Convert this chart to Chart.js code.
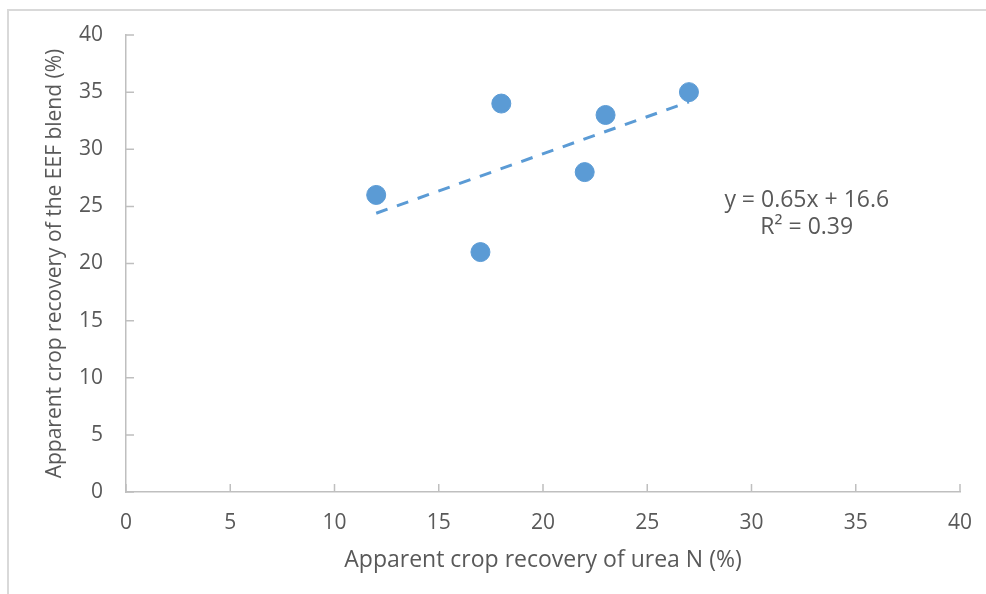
<!DOCTYPE html>
<html>
<head>
<meta charset="utf-8">
<script src="https://cdn.jsdelivr.net/npm/chart.js@4.4.0/dist/chart.umd.min.js"></script>
<style>
  html, body { margin: 0; padding: 0; background: #fff; overflow: hidden; }
  #chart { display: block; }
</style>
</head>
<body>
<canvas id="chart" width="986" height="594"></canvas>
<script>
// recovery of urea N (x) vs recovery of the EEF blend (y), in %
const ureaRecovery = [12, 17, 18, 22, 23, 27];
const blendRecovery = [26, 21, 34, 28, 33, 35];

// fitted linear trend
const slope = 0.65;
const intercept = 16.6;
const rSquared = 0.39;

const axisTicks = [0, 5, 10, 15, 20, 25, 30, 35, 40];

const textColor = "#595959";
const axisColor = "#bfbfbf";
const pointColor = "#5b9bd5";
const fontFamily = "'Open Sans', 'Noto Sans', sans-serif";

const points = ureaRecovery.map((x, i) => ({ x: x, y: blendRecovery[i] }));
const xMin = Math.min(...ureaRecovery);
const xMax = Math.max(...ureaRecovery);
const trend = [
  { x: xMin, y: slope * xMin + intercept },
  { x: xMax, y: slope * xMax + intercept }
];

// light frame round the chart object
const chartFrame = {
  id: "chartFrame",
  beforeDraw(chart) {
    const { ctx } = chart;
    ctx.save();
    ctx.strokeStyle = "#d9d9d9";
    ctx.lineWidth = 2;
    ctx.beginPath();
    ctx.moveTo(8, chart.height + 5);
    ctx.lineTo(8, 10);
    ctx.lineTo(chart.width + 5, 10);
    ctx.stroke();
    ctx.restore();
  }
};

// short tick marks pointing into the plot area, plus the equation text
const excelTicks = {
  id: "excelTicks",
  afterDraw(chart) {
    const { ctx, chartArea, scales } = chart;
    ctx.save();
    ctx.strokeStyle = axisColor;
    ctx.lineWidth = 1.5;
    ctx.beginPath();
    axisTicks.forEach((v) => {
      const px = scales.x.getPixelForValue(v);
      ctx.moveTo(px, chartArea.bottom);
      ctx.lineTo(px, chartArea.bottom - 8);
      const py = scales.y.getPixelForValue(v);
      ctx.moveTo(chartArea.left, py);
      ctx.lineTo(chartArea.left + 8, py);
    });
    ctx.stroke();

    ctx.fillStyle = textColor;
    ctx.font = "23px " + fontFamily;
    ctx.textAlign = "center";
    ctx.textBaseline = "middle";
    const tx = scales.x.getPixelForValue(32.65);
    ctx.fillText("y = " + slope + "x + " + intercept, tx, scales.y.getPixelForValue(25.5));
    ctx.fillText("R² = " + rSquared, tx, scales.y.getPixelForValue(23.15));
    ctx.restore();
  }
};

const ctx = document.getElementById("chart").getContext("2d");
new Chart(ctx, {
  type: "scatter",
  data: {
    datasets: [
      {
        label: "Trend",
        data: trend,
        showLine: true,
        borderColor: pointColor,
        borderWidth: 3,
        borderDash: [12, 10],
        pointRadius: 0,
        fill: false
      },
      {
        label: "Recovery",
        data: points,
        backgroundColor: pointColor,
        borderColor: pointColor,
        borderWidth: 1,
        pointRadius: 9.5,
        pointHoverRadius: 9.5
      }
    ]
  },
  options: {
    responsive: false,
    animation: false,
    events: [],
    layout: { padding: { left: 0, top: 35, right: 26, bottom: 0 } },
    plugins: {
      legend: { display: false },
      tooltip: { enabled: false }
    },
    scales: {
      x: {
        type: "linear",
        min: 0,
        max: 40,
        afterBuildTicks: (scale) => {
          scale.ticks = axisTicks.map((v) => ({ value: v }));
        },
        afterFit: (scale) => {
          scale.height = 102;
          scale.paddingLeft = 0;
          scale.paddingRight = 0;
        },
        grid: { display: false, drawTicks: false },
        border: { display: true, color: axisColor, width: 1.5 },
        ticks: {
          color: textColor,
          padding: 18,
          maxRotation: 0,
          font: { family: fontFamily, size: 21 }
        },
        title: {
          display: true,
          text: "Apparent crop recovery of urea N (%)",
          color: textColor,
          padding: { top: 0, bottom: 20 },
          font: { family: fontFamily, size: 23 }
        }
      },
      y: {
        type: "linear",
        min: 0,
        max: 40,
        afterBuildTicks: (scale) => {
          scale.ticks = axisTicks.map((v) => ({ value: v }));
        },
        afterFit: (scale) => {
          scale.width = 126;
          scale.paddingTop = 0;
          scale.paddingBottom = 0;
        },
        grid: { display: false, drawTicks: false },
        border: { display: true, color: axisColor, width: 1.5 },
        ticks: {
          color: textColor,
          padding: 23,
          font: { family: fontFamily, size: 21 }
        },
        title: {
          display: true,
          text: "Apparent crop recovery of the EEF blend (%)",
          color: textColor,
          padding: { top: 42, bottom: 0 },
          font: { family: fontFamily, size: 21 }
        }
      }
    }
  },
  plugins: [chartFrame, excelTicks]
});
</script>
</body>
</html>
